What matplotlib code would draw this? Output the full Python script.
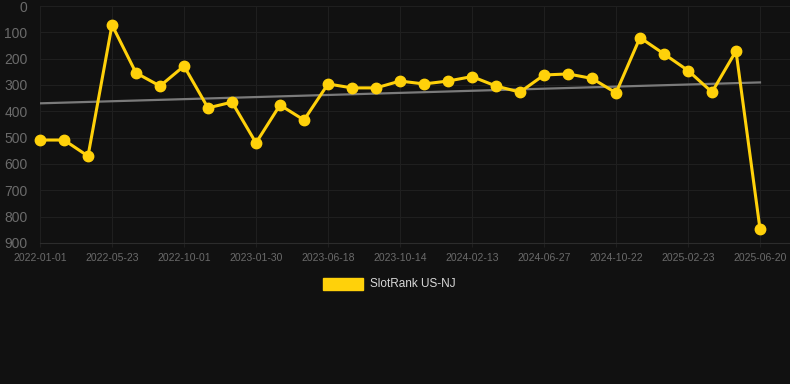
import numpy as np
import matplotlib.pyplot as plt

# SlotRank US-NJ ranks (lower = better), one point per period
rank = [509, 509, 570, 72, 254, 304, 228, 387, 365, 520,
        376, 433, 296, 311, 311, 285, 296, 285, 268, 304,
        327, 262, 258, 275, 330, 120, 182, 245, 327, 171, 847]

tick_labels = ['2022-01-01', '2022-05-23', '2022-10-01', '2023-01-30',
               '2023-06-18', '2023-10-14', '2024-02-13', '2024-06-27',
               '2024-10-22', '2025-02-23', '2025-06-20']
tick_step = 3

BG = '#111111'
GOLD = '#FFD10A'

plt.rcParams['font.family'] = ['Liberation Sans', 'DejaVu Sans']

fig = plt.figure(figsize=(7.9, 3.84), dpi=100, facecolor=BG)
ax = fig.add_axes([40 / 790, 141 / 384, 750 / 790, 237 / 384], facecolor=BG)

x = np.arange(len(rank))

# linear trend
k, b = np.polyfit(x, rank, 1)
ax.plot(x, k * x + b, color='#7a7a7a', lw=1.6, zorder=2)

ax.plot(x, rank, color=GOLD, lw=2.2, marker='o', markersize=7.5,
        zorder=3, clip_on=False)

ax.set_ylim(900, 0)
ax.set_xlim(0, 31.25)
ax.set_yticks(range(0, 901, 100))
ax.set_xticks(x[::tick_step])
ax.set_xticklabels(tick_labels)

ax.grid(True, color='#1f1f1f', lw=0.8)
ax.set_axisbelow(True)
for s in ['top', 'right', 'left']:
    ax.spines[s].set_visible(False)
ax.spines['bottom'].set_color('#2c2c2c')

ax.tick_params(axis='y', colors='#6b6b6b', labelsize=10, length=0, pad=9)
ax.tick_params(axis='x', colors='#6b6b6b', labelsize=7.5, length=3,
               width=0.8, color='#1f1f1f', pad=4)

# legend
fig.patches.append(plt.Rectangle((323 / 790, 1 - 290 / 384), 40 / 790, 12 / 384,
                                 transform=fig.transFigure, color=GOLD))
fig.text(370 / 790, 1 - 284 / 384, 'SlotRank US-NJ', color='#d8d8d8',
         fontsize=8.5, va='center', ha='left')

fig.savefig('out.png', dpi=100, facecolor=BG)
